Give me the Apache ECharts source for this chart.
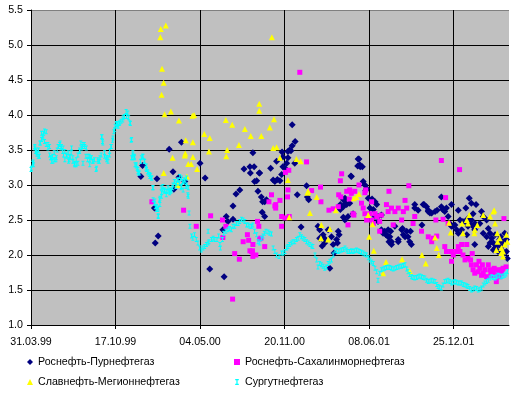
<!DOCTYPE html>
<html>
<head>
<meta charset="utf-8">
<script src="https://cdn.jsdelivr.net/npm/echarts@6/dist/echarts.min.js"></script>
<style>
html,body{margin:0;padding:0;background:#fff;}
#main{width:520px;height:396px;}
</style>
</head>
<body>
<div id="main"></div>
<script>
// x = days since 31.03.99
var startDate = new Date(1999, 2, 31);
var xTicks = [0, 200, 400, 600, 800, 1000];
var yTicks = [1.0, 1.5, 2.0, 2.5, 3.0, 3.5, 4.0, 4.5, 5.0, 5.5];
var seriesNames = ['Роснефть-Пурнефтегаз', 'Роснефть-Сахалинморнефтегаз', 'Славнефть-Мегионнефтегаз', 'Сургутнефтегаз'];

var purneftegaz = [[260,3.12],[264,3.28],[292,2.67],[294,2.17],[298,3.09],[301,2.27],[327,3.51],[336,3.19],[338,2.94],[350,3.11],[356,3.61],[364,3.05],[400,3.31],[412,3.10],[423,1.80],[457,1.69],[454,2.36],[462,2.55],[466,2.48],[478,2.70],[478,2.51],[485,2.87],[494,2.93],[504,3.23],[518,3.26],[519,3.17],[525,3.46],[528,3.26],[529,3.05],[534,3.06],[537,2.91],[540,3.17],[541,3.17],[545,2.83],[547,2.61],[548,2.76],[553,2.76],[553,2.55],[557,2.79],[567,3.24],[573,3.07],[577,3.05],[581,3.34],[583,3.08],[589,3.06],[593,3.15],[594,3.47],[596,3.40],[596,3.26],[601,3.24],[605,3.31],[608,3.48],[608,3.39],[612,3.50],[615,3.49],[618,3.86],[618,3.56],[624,3.31],[625,3.62],[630,2.86],[639,2.40],[652,2.99],[654,2.83],[657,2.79],[679,2.41],[683,2.36],[683,2.24],[687,2.24],[689,2.13],[691,2.29],[694,2.24],[695,2.17],[703,2.36],[707,1.81],[711,2.26],[715,2.15],[717,2.03],[723,2.22],[725,2.17],[727,2.34],[729,2.29],[732,2.72],[732,2.65],[739,2.79],[739,2.69],[739,2.54],[741,2.79],[743,2.81],[743,2.50],[744,2.74],[747,2.72],[750,2.55],[754,2.74],[757,3.13],[758,3.12],[762,2.59],[773,3.27],[774,3.37],[776,3.37],[778,3.29],[779,3.26],[784,3.26],[786,3.05],[790,3.00],[792,2.92],[794,2.95],[798,2.81],[802,2.67],[807,2.80],[810,2.65],[814,2.76],[814,2.55],[818,2.72],[821,2.55],[821,2.48],[829,2.57],[829,2.36],[833,2.31],[837,2.34],[840,2.29],[841,2.29],[845,2.36],[845,2.26],[847,2.19],[849,2.26],[851,2.34],[853,2.15],[853,2.19],[861,2.41],[869,2.22],[869,2.19],[877,2.36],[879,2.38],[881,2.29],[885,2.26],[889,2.34],[892,2.26],[896,2.19],[898,2.34],[900,2.15],[908,2.72],[908,2.67],[916,2.64],[925,2.43],[928,2.72],[930,2.72],[936,2.69],[940,2.62],[940,2.64],[944,2.60],[948,2.60],[956,2.62],[961,2.64],[971,2.83],[971,2.69],[974,2.65],[979,2.62],[983,2.67],[987,2.55],[991,2.45],[995,2.41],[995,2.72],[999,2.41],[1003,2.43],[1007,2.36],[1011,2.31],[1011,2.64],[1015,2.50],[1019,2.36],[1022,2.48],[1027,2.48],[1029,2.67],[1031,2.29],[1034,2.41],[1034,2.52],[1037,2.81],[1038,2.45],[1042,2.74],[1042,2.50],[1046,2.59],[1046,2.41],[1050,2.36],[1050,2.45],[1050,2.15],[1053,2.72],[1054,2.43],[1058,2.43],[1062,2.45],[1066,2.62],[1070,2.55],[1070,2.31],[1078,2.50],[1078,2.26],[1082,2.38],[1082,2.12],[1086,2.31],[1086,2.17],[1090,2.24],[1094,2.17],[1094,2.07],[1098,2.10],[1098,2.29],[1101,2.12],[1105,2.17],[1105,2.05],[1109,2.22],[1111,2.26],[1113,2.12],[1117,2.05],[1117,2.19],[1121,2.03],[1121,2.31],[1125,2.22],[1125,2.05],[1127,1.95]];

var sakhalin = [[286,2.76],[361,2.64],[391,2.41],[425,2.56],[453,2.50],[461,2.41],[454,2.25],[477,1.37],[482,2.02],[493,1.94],[502,2.19],[512,2.29],[515,2.21],[518,2.06],[522,2.05],[524,2.06],[525,2.15],[525,1.98],[532,2.00],[536,2.48],[539,2.41],[541,2.23],[544,2.24],[553,2.12],[563,2.76],[569,2.86],[577,2.70],[579,2.67],[579,2.72],[589,2.78],[593,2.55],[593,2.41],[601,2.53],[602,3.18],[607,2.83],[608,2.93],[610,3.21],[611,2.55],[636,4.61],[652,3.33],[664,2.92],[685,2.97],[686,2.76],[705,2.64],[715,2.66],[727,2.69],[728,2.86],[732,3.06],[735,3.16],[733,2.83],[747,2.91],[750,2.43],[753,2.80],[754,2.93],[758,2.88],[762,2.59],[766,2.91],[776,3.00],[764,2.57],[782,2.74],[786,2.67],[790,2.89],[792,2.93],[790,2.59],[794,2.50],[802,2.59],[806,2.50],[806,2.76],[810,2.45],[814,2.59],[818,2.55],[825,2.48],[825,2.34],[829,2.57],[841,2.72],[845,2.62],[847,2.91],[853,2.67],[857,2.43],[861,2.62],[869,2.67],[877,2.50],[881,2.62],[885,2.78],[889,2.67],[894,2.99],[904,2.45],[908,2.55],[924,2.34],[940,2.26],[948,2.19],[952,2.24],[958,2.50],[960,2.27],[971,3.35],[975,2.51],[979,2.12],[981,2.82],[983,2.05],[987,2.45],[995,2.05],[995,1.91],[999,2.00],[1007,2.05],[1011,2.12],[1014,3.22],[1015,2.05],[1019,2.15],[1022,2.00],[1027,1.93],[1031,2.15],[1034,1.95],[1040,1.93],[1042,1.86],[1044,2.02],[1046,1.79],[1050,1.74],[1054,1.86],[1058,1.76],[1060,1.91],[1062,1.81],[1066,1.71],[1068,1.86],[1070,1.74],[1074,1.79],[1078,1.69],[1082,1.86],[1086,1.79],[1088,1.74],[1090,1.71],[1094,1.76],[1096,1.81],[1098,1.71],[1101,1.62],[1105,1.79],[1107,1.74],[1109,1.69],[1113,1.74],[1115,1.79],[1117,1.81],[1119,2.52],[1124,1.83]];

var megion = [[306,5.11],[307,5.23],[319,5.28],[310,4.66],[314,4.46],[309,4.29],[316,4.01],[331,4.05],[350,3.92],[382,3.99],[386,4.00],[366,3.64],[383,3.61],[335,3.39],[365,3.45],[364,3.42],[372,3.30],[379,3.30],[383,3.40],[393,3.23],[314,3.17],[369,3.12],[347,3.00],[410,3.73],[423,3.67],[421,3.48],[461,3.93],[476,3.86],[462,3.41],[464,3.50],[492,3.57],[506,3.80],[520,3.70],[540,4.16],[540,4.06],[545,3.70],[565,3.82],[570,5.11],[575,3.94],[573,3.53],[581,3.54],[589,3.39],[608,3.07],[611,2.54],[628,3.37],[638,3.34],[654,2.89],[656,2.91],[660,2.60],[676,2.83],[687,2.43],[686,2.24],[703,2.22],[707,2.37],[721,2.64],[764,2.81],[770,2.83],[776,2.87],[798,2.57],[800,2.26],[808,2.44],[811,2.06],[833,1.74],[840,1.90],[878,1.94],[896,1.77],[925,2.00],[934,1.88],[956,2.25],[960,2.10],[965,2.00],[989,2.46],[993,2.32],[1020,2.45],[1022,2.31],[1031,2.50],[1034,2.45],[1037,2.57],[1049,2.31],[1050,2.36],[1056,2.43],[1070,2.57],[1086,2.55],[1094,2.62],[1096,2.64],[1098,2.45],[1101,2.07],[1103,2.31],[1104,2.19],[1109,2.24],[1113,2.10],[1113,2.03],[1117,2.05],[1117,1.98],[1121,2.15],[1125,2.29],[1127,2.19]];

var surgut = [[0,3.22],[1,3.24],[4,3.31],[5,3.33],[6,3.29],[9,3.55],[9,3.53],[11,3.48],[12,3.50],[14,3.46],[14,3.44],[17,3.41],[18,3.50],[20,3.41],[21,3.60],[22,3.60],[25,3.74],[25,3.65],[28,3.67],[28,3.70],[30,3.74],[32,3.62],[32,3.77],[36,3.76],[36,3.58],[40,3.58],[40,3.53],[44,3.55],[44,3.43],[46,3.39],[48,3.39],[49,3.34],[51,3.41],[52,3.34],[55,3.46],[56,3.36],[59,3.36],[60,3.39],[62,3.50],[64,3.55],[65,3.55],[68,3.58],[69,3.60],[71,3.53],[72,3.55],[75,3.48],[76,3.53],[77,3.43],[80,3.36],[80,3.48],[84,3.43],[85,3.41],[88,3.46],[89,3.34],[90,3.36],[92,3.39],[92,3.41],[95,3.46],[96,3.53],[99,3.34],[99,3.39],[103,3.29],[103,3.31],[107,3.36],[107,3.29],[111,3.43],[111,3.31],[115,3.50],[115,3.48],[118,3.60],[119,3.53],[122,3.55],[123,3.58],[123,3.31],[126,3.58],[127,3.55],[130,3.41],[131,3.53],[134,3.36],[135,3.41],[138,3.41],[139,3.36],[139,3.29],[142,3.39],[143,3.39],[146,3.34],[147,3.34],[150,3.36],[154,3.22],[155,3.24],[158,3.36],[159,3.34],[162,3.34],[163,3.39],[166,3.43],[167,3.69],[168,3.69],[169,3.62],[170,3.60],[174,3.46],[174,3.41],[178,3.39],[179,3.36],[182,3.34],[182,3.39],[186,3.43],[186,3.48],[189,3.55],[190,3.55],[193,3.64],[194,3.67],[196,3.76],[198,3.79],[199,3.84],[202,3.88],[202,3.86],[205,3.86],[206,3.84],[209,3.88],[210,3.89],[213,3.91],[217,3.93],[218,3.96],[221,3.98],[225,4.05],[226,3.98],[229,4.03],[231,3.96],[234,3.89],[235,3.88],[237,3.64],[238,3.65],[238,3.39],[241,3.39],[241,3.43],[241,3.46],[245,3.41],[245,3.39],[246,3.29],[249,3.29],[249,3.27],[251,3.24],[253,3.22],[253,3.19],[254,3.17],[257,3.17],[259,3.34],[261,3.39],[264,3.41],[265,3.41],[268,3.34],[269,3.34],[272,3.24],[273,3.27],[273,3.22],[276,3.19],[277,3.17],[280,3.15],[281,3.12],[283,3.14],[285,3.10],[286,3.10],[288,2.96],[289,2.96],[289,2.79],[292,2.74],[293,2.77],[294,2.69],[296,2.69],[297,2.69],[297,2.65],[300,2.65],[301,2.55],[301,2.67],[301,2.56],[304,2.79],[305,2.72],[305,2.81],[308,2.96],[309,2.89],[309,2.84],[312,2.93],[312,2.98],[316,2.91],[316,2.93],[320,2.86],[320,2.91],[324,2.91],[324,2.96],[328,2.93],[328,2.89],[331,2.91],[332,2.93],[335,2.96],[336,3.00],[339,3.05],[340,3.05],[343,2.98],[344,3.03],[347,3.07],[348,3.07],[351,3.03],[352,3.12],[355,2.96],[356,3.10],[356,2.98],[359,3.05],[360,3.05],[360,2.93],[363,3.07],[364,3.07],[367,2.98],[368,3.10],[368,3.00],[371,2.86],[372,2.84],[372,2.96],[374,2.60],[376,2.41],[380,2.27],[383,2.24],[387,2.29],[391,2.22],[395,2.17],[399,2.10],[403,2.07],[407,2.10],[411,2.12],[415,2.15],[419,2.17],[419,2.34],[421,2.19],[427,2.22],[431,2.24],[435,2.22],[440,2.22],[444,2.27],[447,2.15],[448,2.10],[453,2.22],[456,2.31],[461,2.34],[466,2.36],[470,2.38],[474,2.36],[478,2.41],[482,2.41],[486,2.45],[490,2.45],[494,2.48],[498,2.51],[502,2.50],[506,2.48],[510,2.43],[514,2.43],[518,2.41],[522,2.41],[525,2.43],[529,2.34],[534,2.29],[537,2.19],[541,2.17],[545,2.24],[549,2.27],[552,2.31],[556,2.34],[561,2.33],[565,2.31],[569,2.30],[573,2.10],[577,2.05],[581,2.00],[587,1.98],[593,2.03],[597,2.03],[601,2.05],[605,2.10],[608,2.12],[612,2.15],[616,2.17],[620,2.19],[624,2.19],[628,2.22],[632,2.24],[636,2.29],[640,2.26],[644,2.24],[648,2.22],[652,2.19],[656,2.17],[660,2.15],[664,2.13],[667,2.12],[672,2.00],[676,1.93],[679,1.83],[683,1.88],[687,1.86],[691,1.84],[695,1.81],[699,1.83],[703,1.88],[707,1.91],[711,1.93],[715,2.00],[719,2.07],[723,2.06],[727,2.05],[731,2.06],[735,2.07],[739,2.08],[743,2.10],[747,2.07],[750,2.05],[754,2.05],[758,2.06],[762,2.05],[766,2.06],[770,2.07],[774,2.06],[778,2.05],[782,2.04],[786,2.03],[790,2.01],[794,2.00],[798,1.96],[802,1.93],[806,1.90],[810,1.88],[814,1.81],[818,1.76],[821,1.64],[825,1.74],[829,1.79],[833,1.80],[837,1.81],[841,1.82],[845,1.83],[849,1.82],[853,1.81],[857,1.80],[861,1.81],[865,1.82],[869,1.83],[873,1.84],[877,1.84],[881,1.85],[885,1.86],[889,1.80],[892,1.76],[896,1.72],[900,1.69],[904,1.68],[908,1.67],[912,1.68],[916,1.69],[920,1.70],[924,1.69],[928,1.68],[932,1.67],[936,1.64],[940,1.62],[944,1.63],[948,1.64],[952,1.63],[956,1.62],[960,1.58],[963,1.55],[967,1.54],[971,1.53],[975,1.57],[979,1.62],[983,1.63],[987,1.64],[991,1.62],[995,1.60],[999,1.61],[1003,1.62],[1007,1.61],[1011,1.60],[1015,1.60],[1019,1.60],[1023,1.58],[1027,1.57],[1031,1.56],[1034,1.55],[1038,1.52],[1042,1.50],[1046,1.51],[1050,1.53],[1054,1.52],[1058,1.50],[1062,1.51],[1066,1.53],[1070,1.57],[1074,1.60],[1078,1.62],[1082,1.64],[1086,1.67],[1090,1.69],[1094,1.68],[1098,1.67],[1101,1.69],[1105,1.71],[1109,1.70],[1113,1.69],[1117,1.70],[1121,1.71],[1124,1.73],[1127,1.76]];

function pad(n){ return n < 10 ? '0' + n : '' + n; }
function dayLabel(v){
    if (xTicks.indexOf(v) < 0) return '';
    var d = new Date(startDate.getFullYear(), startDate.getMonth(), startDate.getDate() + v);
    return pad(d.getDate()) + '.' + pad(d.getMonth() + 1) + '.' + pad(d.getFullYear() % 100);
}

var font = "'Liberation Sans', Arial, sans-serif";
var ibeam = 'path://M0,0H3V1H2V4H3V5H0V4H1V1H0Z';

var myChart = echarts.init(document.getElementById('main'), null, {renderer: 'canvas'});
var option = {
    backgroundColor: '#fff',
    animation: false,
    textStyle: {fontFamily: font, fontSize: 10.67, color: '#000'},
    grid: {
        left: 31, top: 10, width: 478, height: 315,
        show: true, backgroundColor: '#c0c0c0', borderWidth: 0
    },
    legend: [{
        data: [seriesNames[0], seriesNames[2]],
        orient: 'vertical', left: 27, top: 356, padding: 0,
        itemWidth: 6, itemHeight: 6, itemGap: 8,
        textStyle: {fontFamily: font, fontSize: 10.67, color: '#000', lineHeight: 12}
    }, {
        data: [seriesNames[1], seriesNames[3]],
        orient: 'vertical', left: 234, top: 356, padding: 0,
        itemWidth: 6, itemHeight: 6, itemGap: 8,
        textStyle: {fontFamily: font, fontSize: 10.67, color: '#000', lineHeight: 12}
    }],
    xAxis: {
        type: 'value', min: 0, max: 1131, interval: 200,
        axisLine: {show: true, onZero: false, lineStyle: {color: '#000', width: 1}},
        axisTick: {show: true, length: 4, customValues: xTicks, lineStyle: {color: '#000'}},
        axisLabel: {margin: 12, color: '#000', fontFamily: font, fontSize: 10.67,
            customValues: xTicks, formatter: dayLabel},
        splitLine: {show: true, lineStyle: {color: ['#000','#000','#000','#000','#000','#000','#808080'], width: 1}}
    },
    yAxis: {
        type: 'value', min: 1, max: 5.5, interval: 0.5,
        axisLine: {show: true, onZero: false, lineStyle: {color: '#000', width: 1}},
        axisTick: {show: true, length: 4, lineStyle: {color: '#000'}},
        axisLabel: {margin: 8, color: '#000', fontFamily: font, fontSize: 10.67,
            formatter: function(v){ return v.toFixed(1); }},
        splitLine: {show: true, lineStyle: {color: ['#000','#000','#000','#000','#000','#000','#000','#000','#000','#808080'], width: 1}}
    },
    series: [{
        name: seriesNames[0], type: 'scatter', data: purneftegaz,
        symbol: 'diamond', symbolSize: 7,
        itemStyle: {color: '#000080', opacity: 1}
    }, {
        name: seriesNames[1], type: 'scatter', data: sakhalin,
        symbol: 'rect', symbolSize: 5,
        itemStyle: {color: '#ff00ff', opacity: 1}
    }, {
        name: seriesNames[2], type: 'scatter', data: megion,
        symbol: 'triangle', symbolSize: 6,
        itemStyle: {color: '#ffff00', opacity: 1}
    }, {
        name: seriesNames[3], type: 'scatter', data: surgut,
        symbol: ibeam, symbolSize: [3, 5],
        itemStyle: {color: '#00ffff', opacity: 1}
    }]
};
myChart.setOption(option);
</script>
</body>
</html>
